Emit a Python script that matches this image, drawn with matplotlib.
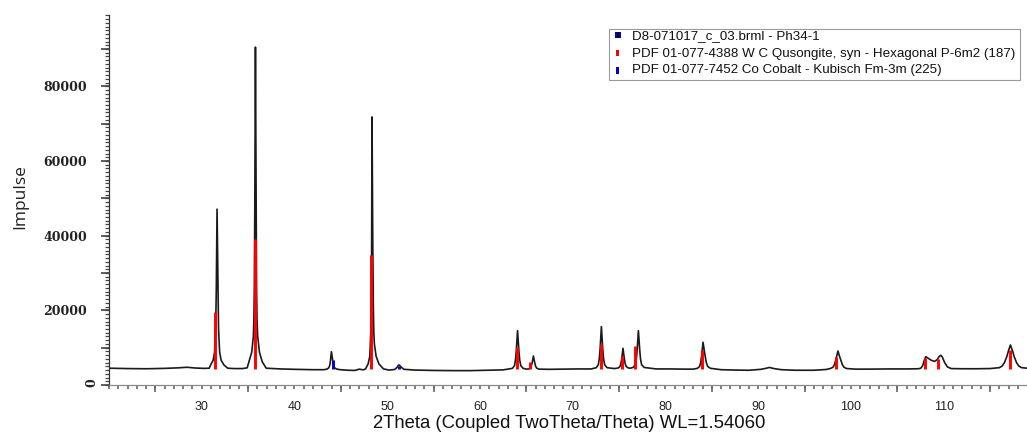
import matplotlib
matplotlib.use("Agg")
import matplotlib.pyplot as plt
from matplotlib.patches import Rectangle
from matplotlib.ticker import MultipleLocator, FuncFormatter

# ---------------- data ----------------
two_theta = [
    20.0, 22.0, 24.0, 26.0, 27.5, 28.4, 29.3, 30.3,
    30.8, 30.95, 31.23, 31.38, 31.5, 31.57, 31.605, 31.65, 31.7, 31.74, 31.81, 31.93, 32.09, 32.4, 32.8,
    33.5, 34.4,
    34.9, 35.09, 35.39, 35.57, 35.62, 35.67, 35.72, 35.75, 35.79, 35.83, 35.86, 35.91, 35.96, 36.03, 36.22, 36.52, 36.95,
    38.5, 40.0, 42.0, 43.2,
    43.53, 43.7, 43.81, 43.88, 43.93, 43.98, 44.05, 44.11, 44.2, 44.31, 44.53, 44.9,
    45.8, 46.5, 47.0, 47.4,
    47.66, 47.94, 48.12, 48.18, 48.23, 48.285, 48.32, 48.36, 48.4, 48.44, 48.5, 48.55, 48.61, 48.8, 49.1, 49.6,
    50.2, 50.8, 51.05, 51.2, 51.3, 51.5, 51.8,
    53.0, 55.0, 57.0, 59.0, 61.0, 62.5,
    63.5, 63.72, 63.83, 63.92, 63.98, 64.05, 64.12, 64.19, 64.28, 64.4, 64.65,
    65.0, 65.25, 65.43, 65.54, 65.63, 65.69, 65.76, 65.83, 65.9, 65.99, 66.1, 66.35,
    67.5, 69.0, 70.5, 72.0,
    72.54, 72.76, 72.87, 72.96, 73.02, 73.09, 73.16, 73.23, 73.32, 73.44, 73.7,
    74.5, 74.9, 75.09, 75.2, 75.29, 75.35, 75.42, 75.49, 75.56, 75.65, 75.77, 76.0, 76.2,
    76.5, 76.75, 76.86, 76.95, 77.01, 77.08, 77.15, 77.22, 77.31, 77.43, 77.7,
    79.0, 80.5, 82.0, 83.0,
    83.45, 83.68, 83.8, 83.9, 83.97, 84.05, 84.16, 84.27, 84.4, 84.55, 84.85,
    86.0, 87.5, 89.0, 90.3, 90.8, 91.2, 91.7, 92.5, 94.0, 96.0, 97.3,
    97.75, 98.05, 98.22, 98.36, 98.48, 98.6, 98.74, 98.9, 99.07, 99.25, 99.55,
    100.5, 102.0, 104.0, 106.0, 107.2,
    107.5, 107.72, 107.9, 108.06, 108.25, 108.6, 109.0, 109.3, 109.5, 109.68, 109.85, 110.1, 110.4, 110.8,
    112.0, 113.5, 115.0,
    116.0, 116.3, 116.55, 116.8, 116.98, 117.19, 117.42, 117.6, 117.85, 118.1, 118.4, 119.0,
]
counts = [
    4500, 4400, 4350, 4450, 4600, 4750, 4550, 4450,
    4500, 5350, 6630, 8760, 15150, 25800, 36450, 47100, 36450, 25800, 15150, 8760, 6630, 5350, 4500,
    4400, 4400,
    4600, 6220, 8800, 13100, 17400, 26000, 47500, 69000, 90500, 69000, 47500, 26000, 17400, 13100, 8800, 6220, 4500,
    4300, 4200, 4100, 4100,
    4290, 4630, 5340, 6535, 7730, 8920, 7730, 6535, 5340, 4630, 4290, 4100,
    3950, 3900, 4250, 4050,
    4300, 5650, 7700, 11050, 14400, 21200, 38050, 71800, 54900, 38050, 21200, 14400, 11050, 7700, 5650, 4300,
    4000, 4150, 4700, 5300, 5350, 4800, 4200,
    4000, 3900, 3850, 3850, 3950, 4050,
    4460, 5190, 6750, 9350, 11950, 14550, 11950, 9350, 6750, 5190, 4460,
    4250, 4300, 4560, 5090, 5985, 6880, 7770, 6880, 5985, 5090, 4560, 4250,
    4200, 4250, 4300, 4300,
    4640, 5430, 7130, 9960, 12790, 15620, 12790, 9960, 7130, 5430, 4640,
    4400, 4560, 4940, 5760, 7115, 8470, 9830, 8470, 7115, 5760, 4940, 4560, 4500,
    4700, 5415, 6940, 9475, 12010, 14550, 12010, 9475, 6940, 5415, 4700,
    4300, 4300, 4250, 4250,
    4465, 4970, 6050, 7845, 9640, 11440, 9640, 7845, 6050, 4970, 4465,
    4100, 4000, 3950, 4200, 4450, 4700, 4400, 4100, 3950, 3950, 4150,
    4400, 4735, 5465, 6680, 7895, 9110, 7895, 6680, 5465, 4735, 4400,
    4250, 4250, 4300, 4300, 4350,
    4450, 5100, 6600, 7580, 7300, 6700, 6300, 6800, 7600, 7960, 7500, 6000, 4850, 4400,
    4350, 4350, 4400,
    4640, 5080, 6020, 7585, 9150, 10720, 9150, 7585, 6020, 5080, 4640, 4500,
]

wc_pos = [31.45, 35.70, 48.25, 64.00, 65.40, 73.05, 75.35, 76.75, 83.95, 98.40, 107.95, 109.40, 117.15]
wc_int = [19600, 39000, 34800, 10300, 6250, 11000, 7800, 10450, 9400, 7600, 7150, 6900, 9400]
co_pos = [44.15, 51.30]
co_int = [6700, 5100]
stick_base = 4300

x_label_step = 10
y_label_step = 20000

legend_labels = [
    "D8-071017_c_03.brml - Ph34-1",
    "PDF 01-077-4388 W C Qusongite, syn - Hexagonal P-6m2 (187)",
    "PDF 01-077-7452 Co Cobalt - Kubisch Fm-3m (225)",
]

# ---------------- figure ----------------
W, H = 1027, 436
fig = plt.figure(figsize=(W / 100, H / 100), dpi=100)
fig.patch.set_facecolor("white")


def fx(px):
    return px / W


def fy(py):
    return 1 - py / H


ax = fig.add_axes([fx(109), fy(385), fx(1027) - fx(109), fy(15) - fy(385)])
ax.set_xlim(20.0, 118.98)
ax.set_ylim(0, 99100)

ax.plot(two_theta, counts, color="#1a1a1a", lw=1.2, zorder=2)
ax.vlines(wc_pos, stick_base, wc_int, colors="#ff0000", lw=2.1, zorder=3)
ax.vlines(co_pos, stick_base, co_int, colors="#0000d0", lw=2.1, zorder=3)

for s in ("top", "right"):
    ax.spines[s].set_visible(False)
ax.spines["left"].set_color("#333333")
ax.spines["left"].set_linewidth(0.9)
ax.spines["bottom"].set_color("#8a8a8a")
ax.spines["bottom"].set_linewidth(0.9)

# x ticks: short tick every degree, labels every 10, long tick at 25, 35, ...
ax.xaxis.remove_overlapping_locs = False
ax.yaxis.remove_overlapping_locs = False
ax.xaxis.set_major_locator(MultipleLocator(1))
ax.xaxis.set_major_formatter(FuncFormatter(
    lambda v, p: f"{int(round(v))}" if (round(v) % x_label_step == 0 and v > 25) else ""))
ax.xaxis.set_minor_locator(MultipleLocator(10, offset=5))
ax.tick_params(axis="x", which="major", direction="out", length=3.0, width=1.2,
               color="#666666", pad=8.5, labelsize=9, labelcolor="#222222")
ax.tick_params(axis="x", which="minor", direction="out", length=5.3, width=1.2,
               color="#666666")
for lab in ax.get_xticklabels():
    lab.set_fontfamily("Liberation Sans")

# y ticks: short tick every 1000, longer every 10000, labels every 20000
ax.yaxis.set_major_locator(MultipleLocator(10000))
ax.yaxis.set_major_formatter(FuncFormatter(
    lambda v, p: f"{int(round(v))}" if (round(v) % y_label_step == 0 and v > 0) else ""))
ax.yaxis.set_minor_locator(MultipleLocator(1000))
ax.tick_params(axis="y", which="major", direction="out", length=6, width=1.1,
               color="#333333", pad=10, labelsize=9, labelcolor="#222222")
ax.tick_params(axis="y", which="minor", direction="out", length=3.2, width=0.9,
               color="#444444")
for lab in ax.get_yticklabels():
    lab.set_fontfamily("DejaVu Serif")
    lab.set_fontweight("bold")

fig.text(fx(92), fy(383), "0", rotation=90, ha="center", va="center",
         fontsize=9, fontweight="bold", family="DejaVu Serif", color="#222222")

# axis titles
fig.text(fx(20), fy(197), "Impulse", rotation=90, ha="center", va="center",
         fontsize=12.5, family="Open Sans", color="#222222")
fig.text(fx(569), fy(428), "2Theta (Coupled TwoTheta/Theta) WL=1.54060",
         ha="center", va="baseline", fontsize=13.3, family="Liberation Sans", color="#111111")

# legend (drawn by hand, in figure pixels)
fig.patches.append(Rectangle((fx(609), fy(80)), fx(1020) - fx(609), fy(29) - fy(80),
                             transform=fig.transFigure, facecolor="white",
                             edgecolor="#9a9a9a", lw=0.8, zorder=5))
fig.patches.append(Rectangle((fx(614.5), fy(38.5)), fx(6), fy(32) - fy(38.5),
                             transform=fig.transFigure, facecolor="#0000d0",
                             edgecolor="none", zorder=6))
fig.patches.append(Rectangle((fx(616.5), fy(38.5)), fx(2), fy(32) - fy(38.5),
                             transform=fig.transFigure, facecolor="#000000",
                             edgecolor="none", zorder=7))
fig.patches.append(Rectangle((fx(616), fy(56.5)), fx(2.5), fy(50.5) - fy(56.5),
                             transform=fig.transFigure, facecolor="#ff0000",
                             edgecolor="none", zorder=6))
fig.patches.append(Rectangle((fx(616), fy(74)), fx(2.5), fy(67.5) - fy(74),
                             transform=fig.transFigure, facecolor="#0000d0",
                             edgecolor="none", zorder=6))
for lab, py in zip(legend_labels, [36, 53.5, 70.5]):
    fig.text(fx(632), fy(py), lab, ha="left", va="center", fontsize=9.6,
             family="Liberation Sans", color="#111111", zorder=7)

fig.savefig("out.png", dpi=100)
